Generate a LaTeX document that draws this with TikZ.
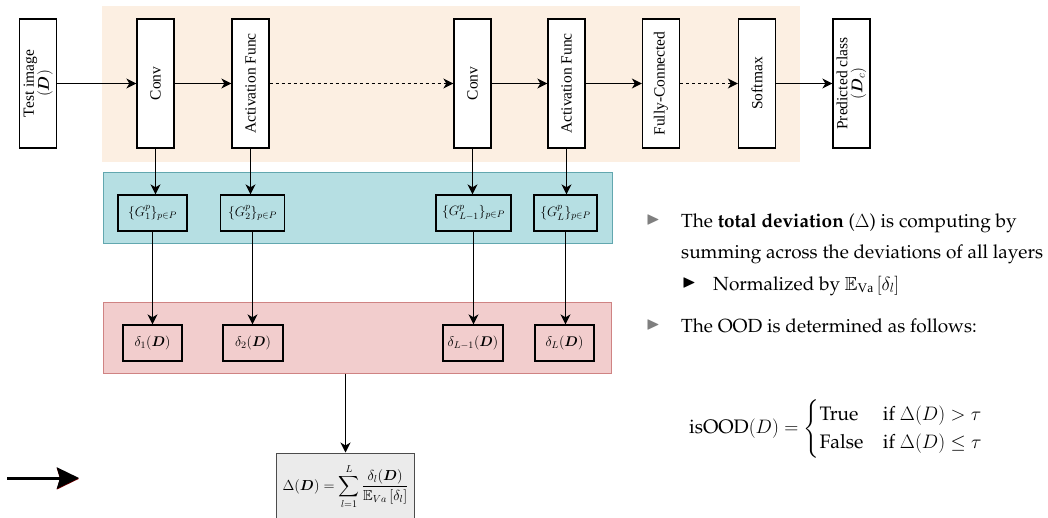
\RequirePackage{fix-cm}
\documentclass[tikz,border=0pt]{standalone}
\usepackage{amsmath,amssymb}
\usepackage[T1,TU]{fontenc}
\usepackage{fontspec}
\setmainfont{Liberation Serif}
\usetikzlibrary{arrows.meta}
\newcommand\palfont{\fontencoding{T1}\fontfamily{ppl}\selectfont}
\definecolor{beige}{HTML}{FCEFE2}
\definecolor{cyanfill}{HTML}{B6DFE3}
\definecolor{cyanline}{HTML}{62A7AF}
\definecolor{redfill}{HTML}{F2CDCD}
\definecolor{redline}{HTML}{CF8383}
\definecolor{sumfill}{HTML}{EBEBEB}
\definecolor{bulgray}{HTML}{7F7F7F}
\tikzset{
  layer/.style={draw, line width=1.3pt, fill=white, minimum width=37pt, minimum height=129pt, inner sep=0pt, font=\fontsize{15.5}{17}\selectfont},
  gbox/.style={draw, line width=1.3pt, minimum height=36pt, inner sep=1pt, font=\fontsize{13.5}{15}\selectfont},
  dbox/.style={gbox, font=\fontsize{14}{16}\selectfont},
  arr/.style={-{Stealth[length=10pt,width=10pt,inset=3pt]}, line width=1.3pt},
  darr/.style={arr, dash pattern=on 3pt off 3pt},
  rtext/.style={anchor=base west, inner sep=0pt, font=\fontsize{19}{22}\palfont},
  bullet/.style={inner sep=0pt, font=\fontsize{18}{20}\selectfont},
}
\begin{document}
\begin{tikzpicture}[x=1pt,y=-1pt]
\useasboundingbox (0,0) rectangle (1048,517);
% backgrounds
\node (beigebg) [fill=beige, minimum width=698pt, minimum height=156pt, inner sep=0pt] at (451,84) {};
\node (cyanbg) [fill=cyanfill, draw=cyanline, line width=1pt, minimum width=509pt, minimum height=71pt, inner sep=0pt] at (357.5,207.5) {};
\node (redbg) [fill=redfill, draw=redline, line width=1pt, minimum width=508pt, minimum height=71pt, inner sep=0pt] at (357,337.5) {};
% layers
\node[layer] (test) at (38,83.5) {\rotatebox{90}{\begin{tabular}{@{}c@{}}Test image\\[-2pt]$(\boldsymbol{D})$\end{tabular}}};
\node[layer] (conv1) at (155.5,83.5) {\rotatebox{90}{Conv}};
\node[layer] (act1) at (250.5,83.5) {\rotatebox{90}{Activation Func}};
\node[layer] (conv2) at (472.5,83.5) {\rotatebox{90}{Conv}};
\node[layer] (act2) at (566.5,83.5) {\rotatebox{90}{Activation Func}};
\node[layer] (fc) at (661,83.5) {\rotatebox{90}{Fully-Connected}};
\node[layer] (soft) at (757,83.5) {\rotatebox{90}{Softmax}};
\node[layer] (pred) at (851.5,83.5) {\rotatebox{90}{\begin{tabular}{@{}c@{}}Predicted class\\[-2pt]$(\boldsymbol{D}_c)$\end{tabular}}};
\draw[arr] (test) -- (conv1);
\draw[arr] (conv1) -- (act1);
\draw[darr] (act1) -- (conv2);
\draw[arr] (conv2) -- (act2);
\draw[arr] (act2) -- (fc);
\draw[darr] (fc) -- (soft);
\draw[arr] (soft) -- (pred);
% G boxes
\node[gbox, minimum width=69pt] (g1) at (152.5,213) {$\{G_1^p\}_{p\in P}$};
\node[gbox, minimum width=64pt] (g2) at (252.5,213) {$\{G_2^p\}_{p\in P}$};
\node[gbox, minimum width=75pt] (g3) at (473.5,213) {$\{G_{L-1}^p\}_{p\in P}$};
\node[gbox, minimum width=63pt] (g4) at (565.5,213) {$\{G_L^p\}_{p\in P}$};
\draw[arr] (conv1.south) -- (conv1.south |- g1.north);
\draw[arr] (act1.south) -- (act1.south |- g2.north);
\draw[arr] (conv2.south) -- (conv2.south |- g3.north);
\draw[arr] (act2.south) -- (act2.south |- g4.north);
% delta boxes
\node[dbox, minimum width=59pt] (d1) at (152.5,343) {$\delta_1(\boldsymbol{D})$};
\node[dbox, minimum width=60pt] (d2) at (253,343) {$\delta_2(\boldsymbol{D})$};
\node[dbox, minimum width=60pt] (d3) at (473,343) {$\delta_{L-1}(\boldsymbol{D})$};
\node[dbox, minimum width=59pt] (d4) at (564.5,343) {$\delta_L(\boldsymbol{D})$};
\draw[arr] (g1.south) -- (g1.south |- d1.north);
\draw[arr] (g2.south) -- (g2.south |- d2.north);
\draw[arr] (g3.south) -- (g3.south |- d3.north);
\draw[arr] (g4.south) -- (g4.south |- d4.north);
% sum box
\node (sum) [draw=black!70, fill=sumfill, line width=1pt, minimum width=138pt, minimum height=67pt, inner sep=1pt, font=\fontsize{14.5}{16}\selectfont] at (345.5,486.5)
  {$\Delta(\boldsymbol{D}) = \displaystyle\sum_{l=1}^{L}\frac{\delta_l(\boldsymbol{D})}{\mathbb{E}_{Va}\,[\delta_l]}$};
\draw[arr] (redbg.south -| sum.north) -- (sum.north);
% big arrow bottom left
\coordinate (bigS) at (7,478);
\coordinate (bigE) at (79,478);
\draw[line width=3pt, color=red!45!black, -{Stealth[length=22pt,width=21pt,inset=3pt]}] ([yshift=-0.8pt]bigS) -- ([yshift=-0.8pt]bigE);
\draw[line width=3pt, -{Stealth[length=22pt,width=21pt,inset=3pt]}] (bigS) -- (bigE);
% right text
\node[bullet, text=bulgray] (b1) at (653,220) {$\blacktriangleright$};
\node[rtext] (t1) at (681,227) {The \textbf{total deviation} ($\Delta$) is computing by};
\node[rtext] (t2) at (681,258) {summing across the deviations of all layers};
\node[bullet] (b2) at (689,283) {$\blacktriangleright$};
\node[rtext] (t3) at (713,290) {Normalized by $\mathbb{E}_{\mathrm{Va}}\left[\delta_l\right]$};
\node[bullet, text=bulgray] (b3) at (653,325) {$\blacktriangleright$};
\node[rtext] (t4) at (681,332) {The OOD is determined as follows:};
\node[inner sep=0pt, font=\fontsize{19.5}{22}\palfont] (ood) at (836,429)
  {$\text{isOOD}(D) = \begin{cases}\text{True} & \text{if } \Delta(D) > \tau\\[2pt] \text{False} & \text{if } \Delta(D) \le \tau\end{cases}$};
\end{tikzpicture}
\end{document}
